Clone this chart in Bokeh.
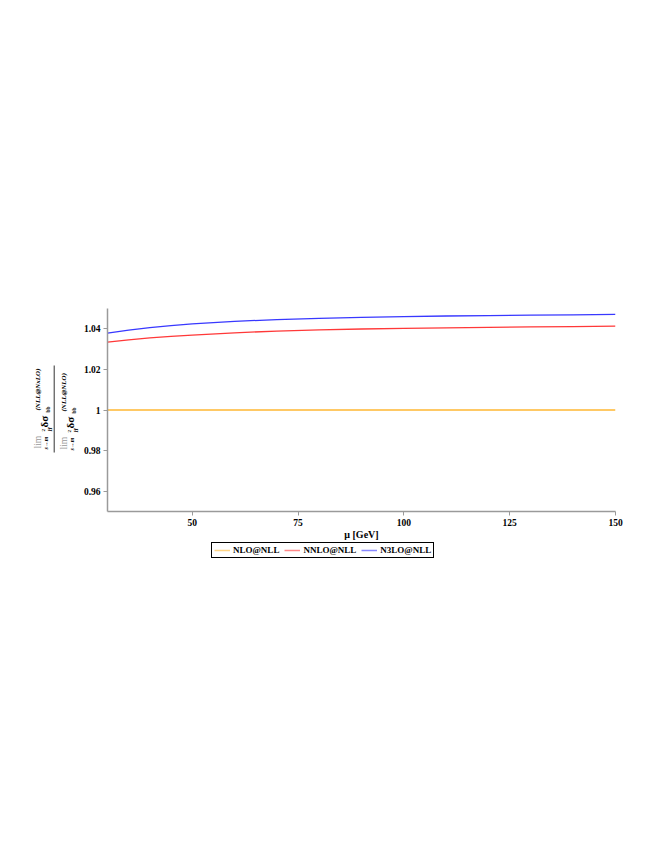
import math
from bokeh.plotting import figure
from bokeh.layouts import row, column
from bokeh.models import (Range1d, FixedTicker, CustomJSTickFormatter, Legend, LegendItem,
                          ColumnDataSource)
from bokeh.core.properties import value
from bokeh.embed import file_html
from bokeh.resources import INLINE

# ---- data ----
mu = [30, 35, 40, 45, 50, 60, 70, 80, 90, 100, 110, 120, 130, 140, 150]
nlo_nll = [1.0] * len(mu)
nnlo_nll = [1.0334, 1.0345, 1.0355, 1.0363, 1.0369, 1.0380, 1.0389, 1.0395, 1.0399,
            1.0402, 1.0405, 1.0407, 1.0409, 1.0411, 1.0413]
n3lo_nll = [1.0379, 1.0393, 1.0406, 1.0416, 1.0424, 1.0437, 1.0445, 1.0451, 1.0456,
            1.0460, 1.0463, 1.0465, 1.0467, 1.0469, 1.0471]
series_names = ["NLO@NLL", "NNLO@NLL", "N3LO@NLL"]
series_colors = ["#ffb833", "#ff3838", "#3838ff"]
x_ticks = [50, 75, 100, 125, 150]
y_ticks = [0.96, 0.98, 1.0, 1.02, 1.04]

X0, X1 = 30, 150
Y0, Y1 = 0.95, 1.05
FW, FH = 508, 203
FL, FT = 107, 308  # page position of the frame
LW = 80            # width of the y-label strip
RB = 22            # right border
PW = (FL - LW) + FW + RB

SERIF = "Liberation Serif"

# ---------------- main chart ----------------
p = figure(frame_width=FW, frame_height=FH, output_backend="svg", toolbar_location=None,
           x_range=Range1d(X0, X1), y_range=Range1d(Y0, Y1),
           min_border_left=FL - LW, min_border_top=FT, min_border_right=RB,
           min_border_bottom=0)
p.outline_line_color = None
p.grid.visible = False

r1 = p.line(mu, nlo_nll, line_color=series_colors[0], line_width=1.3)
r2 = p.line(mu, nnlo_nll, line_color=series_colors[1], line_width=1.3)
r3 = p.line(mu, n3lo_nll, line_color=series_colors[2], line_width=1.3)

for ax in (p.xaxis[0], p.yaxis[0]):
    ax.axis_line_color = "#9a9a9a"
    ax.axis_line_width = 1.5
    ax.major_tick_line_color = "#9a9a9a"
    ax.major_tick_in = 0
    ax.major_tick_out = 4
    ax.minor_tick_line_color = None
    ax.major_label_text_font = SERIF
    ax.major_label_text_font_style = "bold"
    ax.major_label_text_font_size = "9.5px"
    ax.major_label_text_color = "black"
    ax.major_label_standoff = 3

p.xaxis.ticker = FixedTicker(ticks=x_ticks)
p.yaxis.ticker = FixedTicker(ticks=y_ticks)
p.yaxis.formatter = CustomJSTickFormatter(code="return String(Number(tick.toFixed(2)));")

p.xaxis.axis_label = "μ [GeV]"
p.xaxis.axis_label_text_font = SERIF
p.xaxis.axis_label_text_font_style = "bold"
p.xaxis.axis_label_text_font_size = "10px"
p.xaxis.axis_label_text_color = "black"
p.xaxis.axis_label_standoff = 0

# ---------------- legend strip below ----------------
LH = 40
lf = figure(frame_width=PW, frame_height=LH, output_backend="svg", toolbar_location=None,
            x_range=Range1d(0, PW), y_range=Range1d(0, LH),
            x_axis_type=None, y_axis_type=None, min_border=0)
lf.outline_line_color = None
lf.grid.visible = False
items = []
for name, col in zip(series_names, series_colors):
    # legend-only renderer, its (single) point lies outside the strip's view
    rr = lf.line(x=[-50, -40], y=[-50, -50], line_color=col, line_width=1.5, line_alpha=0.6)
    items.append(LegendItem(label=name, renderers=[rr]))
legend = Legend(items=items, orientation="horizontal", location=(211 - LW, LH - 16))
legend.label_text_font = SERIF
legend.label_text_font_style = "bold"
legend.label_text_font_size = "9px"
legend.label_text_color = "black"
legend.border_line_color = "black"
legend.border_line_width = 1
legend.border_line_alpha = 1
legend.padding = 2
legend.margin = 0
legend.spacing = 5
legend.glyph_width = 16
legend.glyph_height = 10
legend.label_standoff = 3
legend.label_height = 10
lf.add_layout(legend, "center")

# ---------------- rotated y-axis label (fraction) ----------------
q = figure(frame_width=LW, frame_height=FH, output_backend="svg", toolbar_location=None,
           x_range=Range1d(0, LW), y_range=Range1d(FT + FH, FT),
           x_axis_type=None, y_axis_type=None,
           min_border_left=0, min_border_right=0, min_border_top=FT, min_border_bottom=0)
q.outline_line_color = None
q.grid.visible = False


def part(sup, ox, oy):
    xs = [37, 45.5, 43.0, 49.5, 43.5, 47.5, 37.5]
    ys = [448, 449, 431, 431, 427, 412, 410]
    txt = ["lim", "s→m", "2", "H", "δσ", "bb", sup]
    size = ["9.5px", "6px", "5px", "5.5px", "11px", "5.5px", "7px"]
    style = ["normal", "bold italic", "bold", "bold italic", "bold", "bold", "bold italic"]
    color = ["#9a9a9a", "black", "black", "black", "black", "black", "black"]
    return dict(x=[v + ox for v in xs], y=[v + oy for v in ys], text=txt,
                size=size, style=style, color=color)


a = part("(NLL@NxLO)", 0, 0)
b = part("(NLL@NLO)", 26, 1)
src = ColumnDataSource({k: a[k] + b[k] for k in a})
q.text(x="x", y="y", text="text", source=src, angle=math.pi / 2,
       text_align="left", text_baseline="middle", text_font=value(SERIF),
       text_font_size="size", text_font_style="style", text_color="color")
q.segment(x0=[53.7], y0=[452], x1=[53.7], y1=[365], line_color="#333333", line_width=1)

layout = row(q, column(p, lf))
open("out.html", "w").write(file_html(layout, INLINE))
